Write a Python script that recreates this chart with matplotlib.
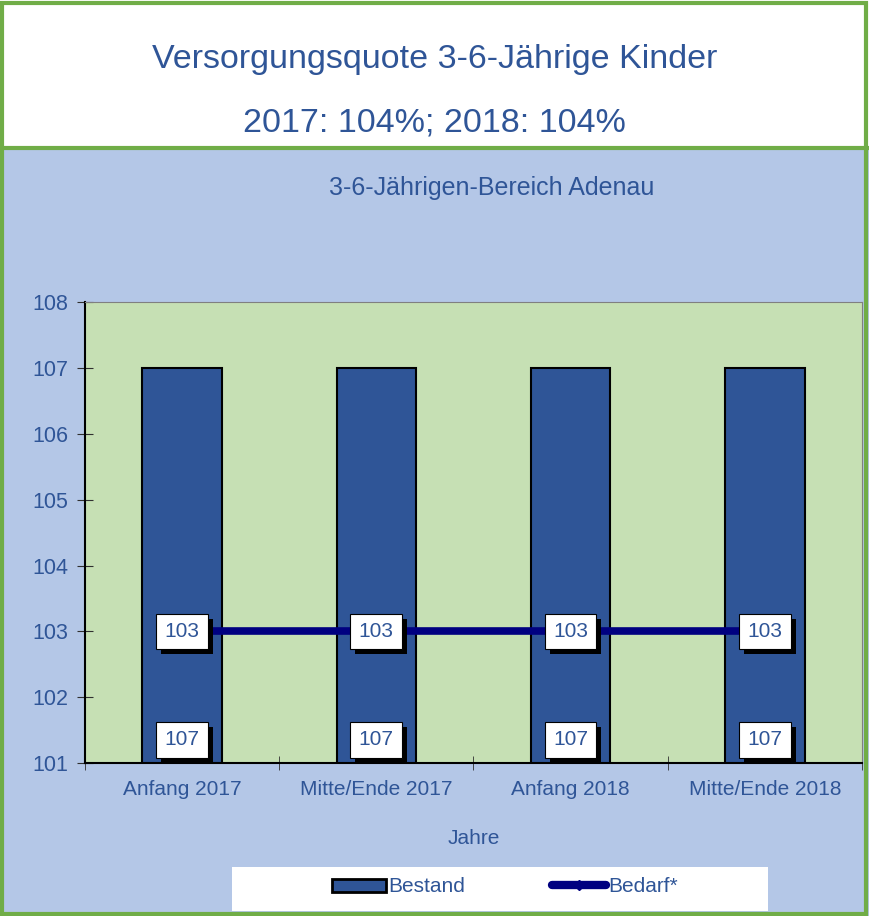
import matplotlib.pyplot as plt
from matplotlib.patches import Rectangle
from matplotlib.lines import Line2D
import matplotlib.patheffects as pe

# dados do gráfico
kategorien = ['Anfang 2017', 'Mitte/Ende 2017', 'Anfang 2018', 'Mitte/Ende 2018']
bestand = [107, 107, 107, 107]
bedarf = [103, 103, 103, 103]
yticks = [101, 102, 103, 104, 105, 106, 107, 108]

azul_txt = '#2F5597'
azul_barra = '#2F5597'
azul_linha = '#000080'
verde_borda = '#70AD47'

plt.rcParams['font.family'] = ['Liberation Sans', 'DejaVu Sans']

fig = plt.figure(figsize=(8.69, 9.16), dpi=100)
fig.patch.set_facecolor('#B4C7E7')

# caixa branca do título
fig.add_artist(Rectangle((0, 0.838), 1, 0.162, transform=fig.transFigure, facecolor='white', edgecolor='none', zorder=0))
fig.add_artist(Line2D([0, 1], [0.838, 0.838], transform=fig.transFigure, color=verde_borda, lw=3))
# borda verde externa
fig.add_artist(Rectangle((0.002, 0.002), 0.995, 0.995, transform=fig.transFigure, facecolor='none', edgecolor=verde_borda, lw=3))

fig.text(0.5, 0.935, 'Versorgungsquote 3-6-Jährige Kinder', ha='center', va='center', fontsize=24.5, color=azul_txt)
fig.text(0.5, 0.866, '2017: 104%; 2018: 104%', ha='center', va='center', fontsize=24.5, color=azul_txt)
fig.text(0.566, 0.795, '3-6-Jährigen-Bereich Adenau', ha='center', va='center', fontsize=18, color=azul_txt)

ax = fig.add_axes([0.0978, 0.167, 0.894, 0.503])
ax.set_facecolor('#C6E0B4')
x = range(len(kategorien))
ax.bar(x, bestand, width=0.41, bottom=0, color=azul_barra, edgecolor='black', lw=1.5, zorder=2)
ax.plot(x, bedarf, color=azul_linha, lw=5.5, zorder=3)

ax.set_xlim(-0.5, 3.5)
ax.set_ylim(101, 108)
ax.set_yticks(yticks)
ax.set_xticks(list(x))
ax.set_xticklabels(kategorien)
ax.set_xticks([-0.5, 0.5, 1.5, 2.5, 3.5], minor=True)
ax.tick_params(axis='x', which='major', length=0, labelsize=15, labelcolor=azul_txt, pad=12)
ax.tick_params(axis='x', which='minor', length=10, direction='inout', color='#303030')
ax.tick_params(axis='y', direction='inout', length=12, color='#303030', labelsize=15.5, labelcolor=azul_txt, pad=6)
ax.spines['top'].set_color('#808080')
ax.spines['right'].set_color('#808080')
ax.spines['left'].set_linewidth(1.5)
ax.spines['bottom'].set_linewidth(1.5)
ax.set_xlabel('Jahre', fontsize=15, color=azul_txt, labelpad=22)

# rótulos dos valores com sombra preta
def rotulo(xi, yi, txt):
    t = ax.text(xi, yi, txt, ha='center', va='center', fontsize=15, color=azul_txt, zorder=5,
                bbox=dict(boxstyle='square,pad=0.4', facecolor='white', edgecolor='black', lw=0.8))
    t.get_bbox_patch().set_path_effects([pe.SimplePatchShadow(offset=(3.6, -3.6), shadow_rgbFace='black', alpha=1),
                                         pe.Normal()])

for i in x:
    rotulo(i, bedarf[i], str(bedarf[i]))
    rotulo(i, 101.35, str(bestand[i]))

# legenda
fig.add_artist(Rectangle((0.267, 0.006), 0.617, 0.048, transform=fig.transFigure, facecolor='white', edgecolor='none'))
h1 = Rectangle((0, 0), 1, 1, facecolor=azul_barra, edgecolor='black', lw=2)
h2 = Line2D([0], [0], color=azul_linha, lw=6, marker='D', markersize=5, solid_capstyle='round')
leg = fig.legend([h1, h2], ['Bestand', 'Bedarf*'], loc='center', bbox_to_anchor=(0.581, 0.0317), ncol=2,
                 frameon=False, fontsize=15, handlelength=2.6, handleheight=0.6, handletextpad=0.1, columnspacing=4.2)
for t in leg.get_texts():
    t.set_color(azul_txt)

plt.savefig('out.png', dpi=100, facecolor=fig.get_facecolor())
